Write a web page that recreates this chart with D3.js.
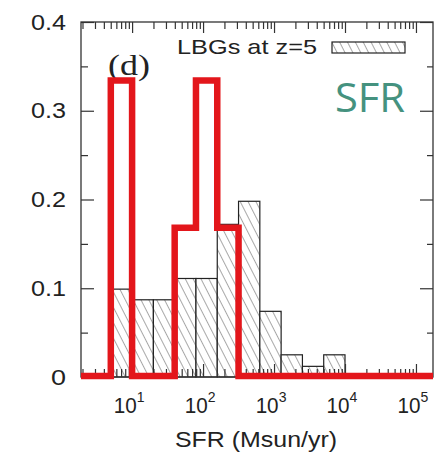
<!DOCTYPE html>
<html>
<head>
<meta charset="utf-8">
<script src="https://cdn.jsdelivr.net/npm/d3@7"></script>
<style>
  html, body { margin: 0; padding: 0; background: #fff; }
  svg { display: block; }
</style>
</head>
<body>
<svg id="chart" width="439" height="452"></svg>
<script>
// ---- data ----
// LBG histogram: bin edges given as log10(SFR)
const lbgBinEdgesLog = [0.7, 1.0, 1.3, 1.6, 1.9, 2.2, 2.5, 2.8, 3.1, 3.4, 3.7, 4.0];
const lbgFractions   = [0.099, 0.087, 0.087, 0.111, 0.111, 0.172, 0.198, 0.074, 0.025, 0.012, 0.025];
// model (red) histogram
const modelBinEdgesLog = [0.7, 1.0, 1.3, 1.6, 1.9, 2.2, 2.5];
const modelFractions   = [0.333, 0, 0, 0.167, 0.333, 0.167];
// axes
const yMajorTicks = [0, 0.1, 0.2, 0.3, 0.4];
const yMinorTicks = [0.05, 0.15, 0.25, 0.35];
const xMajorExponents = [1, 2, 3, 4, 5];
const xDomainLog = [0.28, 5.24];
const yDomain = [0, 0.4];
const legendLabel = "LBGs at z=5";
const panelLabel = "(d)";
const titleLabel = "SFR";
const xAxisTitle = "SFR (Msun/yr)";

// ---- layout ----
const L = 81, R = 433, T = 22, B = 377;
const svg = d3.select("#chart");
svg.append("rect").attr("width", 439).attr("height", 452).attr("fill", "#fff");

const x = d3.scaleLog().domain(xDomainLog.map(e => Math.pow(10, e))).range([L, R]);
const y = d3.scaleLinear().domain(yDomain).range([B, T]);

// hatch pattern
const defs = svg.append("defs");
const pat = defs.append("pattern")
  .attr("id", "hatch").attr("patternUnits", "userSpaceOnUse")
  .attr("width", 7).attr("height", 7)
  .attr("patternTransform", "rotate(-27)");
pat.append("rect").attr("width", 7).attr("height", 7).attr("fill", "#fff");
pat.append("line").attr("x1", 3.5).attr("y1", 0).attr("x2", 3.5).attr("y2", 7)
  .attr("stroke", "#a8a8a8").attr("stroke-width", 1);

// LBG bars
const bars = lbgFractions.map((v, i) => ({
  x0: Math.pow(10, lbgBinEdgesLog[i]), x1: Math.pow(10, lbgBinEdgesLog[i + 1]), v
}));
svg.append("g").selectAll("rect").data(bars).join("rect")
  .attr("x", d => x(d.x0)).attr("width", d => x(d.x1) - x(d.x0))
  .attr("y", d => y(d.v)).attr("height", d => y(0) - y(d.v))
  .attr("fill", "url(#hatch)").attr("stroke", "#222").attr("stroke-width", 1.2);

// axes (ticks inward)
const tickStyle = g => {
  g.select(".domain").remove();
  g.selectAll(".tick line").attr("stroke", "#333").attr("stroke-width", 1.2);
  g.selectAll("text").attr("fill", "#222").attr("font-family", "Liberation Sans, Arial, sans-serif");
};
const xMinor = [];
for (let k = 0; k <= 5; k++) for (let m = 2; m <= 9; m++) {
  const v = m * Math.pow(10, k);
  if (v >= x.domain()[0] && v <= x.domain()[1]) xMinor.push(v);
}
const xMajor = xMajorExponents.map(e => Math.pow(10, e));

// left
svg.append("g").attr("transform", `translate(${L},0)`)
  .call(d3.axisLeft(y).tickValues(yMajorTicks).tickSizeInner(-13).tickSizeOuter(0).tickPadding(15)
    .tickFormat(d => d === 0 ? "0" : d.toFixed(1)))
  .call(tickStyle)
  .call(g => g.selectAll("text").attr("font-size", 22).attr("textLength", function(d){ return d===0?15:35; })
    .attr("lengthAdjust", "spacingAndGlyphs"));
svg.append("g").attr("transform", `translate(${L},0)`)
  .call(d3.axisLeft(y).tickValues(yMinorTicks).tickSizeInner(-7).tickSizeOuter(0).tickFormat(""))
  .call(tickStyle);
// right
svg.append("g").attr("transform", `translate(${R},0)`)
  .call(d3.axisRight(y).tickValues(yMajorTicks).tickSizeInner(-13).tickSizeOuter(0).tickFormat(""))
  .call(tickStyle);
svg.append("g").attr("transform", `translate(${R},0)`)
  .call(d3.axisRight(y).tickValues(yMinorTicks).tickSizeInner(-6).tickSizeOuter(0).tickFormat(""))
  .call(tickStyle);
// top
svg.append("g").attr("transform", `translate(0,${T})`)
  .call(d3.axisTop(x).tickValues(xMajor).tickSizeInner(-11).tickSizeOuter(0).tickFormat(""))
  .call(tickStyle);
svg.append("g").attr("transform", `translate(0,${T})`)
  .call(d3.axisTop(x).tickValues(xMinor).tickSizeInner(-7).tickSizeOuter(0).tickFormat(""))
  .call(tickStyle);
// bottom
svg.append("g").attr("transform", `translate(0,${B})`)
  .call(d3.axisBottom(x).tickValues(xMajor).tickSizeInner(-13).tickSizeOuter(0).tickFormat(""))
  .call(tickStyle);
svg.append("g").attr("transform", `translate(0,${B})`)
  .call(d3.axisBottom(x).tickValues(xMinor).tickSizeInner(-8).tickSizeOuter(0).tickFormat(""))
  .call(tickStyle);

// frame
svg.append("rect").attr("x", L).attr("y", T).attr("width", R - L).attr("height", B - T)
  .attr("fill", "none").attr("stroke", "#333").attr("stroke-width", 1.3);

// x tick labels with superscripts
const xl = svg.append("g").attr("font-family", "Liberation Sans, Arial, sans-serif").attr("fill", "#222");
xMajorExponents.forEach(e => {
  const t = xl.append("text").attr("x", x(Math.pow(10, e)) - 3).attr("y", 413)
    .attr("text-anchor", "middle");
  t.append("tspan").attr("font-size", 22).attr("textLength", 23).attr("lengthAdjust", "spacingAndGlyphs").text("10");
  t.append("tspan").attr("font-size", 14).attr("dy", -11).text(String(e));
});

// panel label
svg.append("text").attr("x", 108).attr("y", 75)
  .attr("font-family", "Liberation Serif, Times New Roman, serif").attr("font-size", 29)
  .attr("fill", "#222").attr("textLength", 42).attr("lengthAdjust", "spacingAndGlyphs")
  .text(panelLabel);

// model (red) step outline
const stepPts = [];
stepPts.push([x.domain()[0], 0]);
modelFractions.forEach((v, i) => {
  const a = Math.pow(10, modelBinEdgesLog[i]), b = Math.pow(10, modelBinEdgesLog[i + 1]);
  stepPts.push([a, stepPts[stepPts.length - 1][1]]);
  stepPts.push([a, v]);
  stepPts.push([b, v]);
});
const lastEdge = Math.pow(10, modelBinEdgesLog[modelBinEdgesLog.length - 1]);
stepPts.push([lastEdge, 0]);
stepPts.push([x.domain()[1], 0]);
svg.append("path")
  .attr("d", d3.line().x(d => x(d[0])).y(d => y(d[1]))(stepPts))
  .attr("fill", "none").attr("stroke", "#e3161b").attr("stroke-width", 6.5)
  .attr("stroke-linejoin", "miter").attr("stroke-linecap", "butt")
  .attr("transform", "translate(0,-1)");

// legend
svg.append("text").attr("x", 177).attr("y", 54)
  .attr("font-family", "Liberation Sans, Arial, sans-serif").attr("font-size", 21)
  .attr("fill", "#222").attr("textLength", 140).attr("lengthAdjust", "spacingAndGlyphs")
  .text(legendLabel);
svg.append("rect").attr("x", 332).attr("y", 42).attr("width", 73).attr("height", 11)
  .attr("fill", "url(#hatch)").attr("stroke", "#222").attr("stroke-width", 1.2);

// SFR title
svg.append("text").attr("x", 335).attr("y", 112)
  .attr("font-family", "Open Sans, Lato, sans-serif").attr("font-size", 40)
  .attr("fill", "#45927f").attr("textLength", 70).attr("lengthAdjust", "spacingAndGlyphs")
  .text(titleLabel);

// x axis title
svg.append("text").attr("x", 175).attr("y", 447)
  .attr("font-family", "Liberation Sans, Arial, sans-serif").attr("font-size", 22)
  .attr("fill", "#222").attr("textLength", 162).attr("lengthAdjust", "spacingAndGlyphs")
  .text(xAxisTitle);
</script>
</body>
</html>
